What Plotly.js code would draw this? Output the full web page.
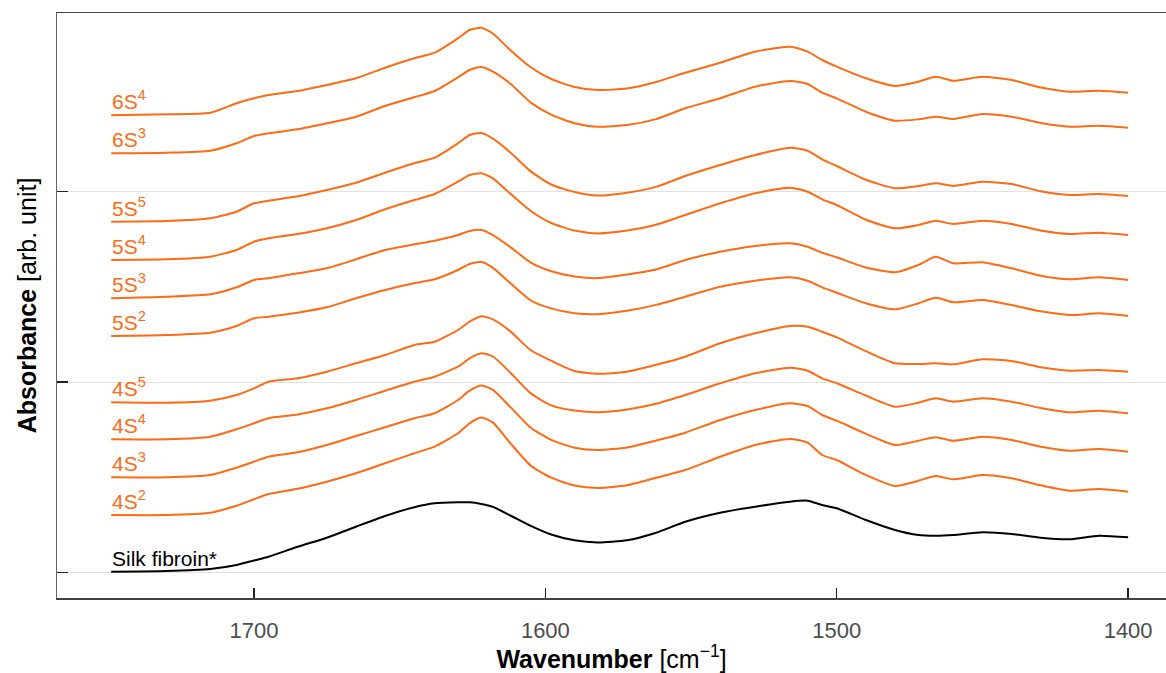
<!DOCTYPE html>
<html>
<head>
<meta charset="utf-8">
<script src="https://cdn.plot.ly/plotly-3.0.1.min.js"></script>
<style>html,body{margin:0;padding:0;background:#fff;}#chart{width:1166px;height:673px;}</style>
</head>
<body>
<div id="chart"></div>
<script>
// Wavenumber grid [cm^-1]
const wavenumber = [1749,1730,1715,1706,1700,1695,1685,1675,1665,1655,1645,1638,1630,1626,1622,1618,1612,1605,1598,1590,1582,1572,1562,1552,1540,1528,1516,1510,1505,1500,1490,1480,1472,1466,1460,1450,1440,1430,1420,1410,1400];

// Absorbance (arb. unit, stacked spectra)
const silkFibroin = [0.283,0.29,0.31,0.35,0.395,0.433,0.533,0.623,0.733,0.84,0.927,0.967,0.977,0.977,0.96,0.931,0.845,0.741,0.655,0.597,0.576,0.597,0.673,0.783,0.873,0.933,0.983,0.993,0.95,0.917,0.80,0.70,0.65,0.643,0.65,0.677,0.66,0.622,0.607,0.643,0.627];
const s4S2 = [0.85,0.85,0.873,0.943,1.007,1.06,1.112,1.183,1.267,1.367,1.467,1.533,1.667,1.767,1.824,1.774,1.567,1.344,1.223,1.144,1.12,1.148,1.223,1.30,1.433,1.55,1.61,1.573,1.45,1.40,1.25,1.14,1.193,1.24,1.207,1.25,1.217,1.147,1.093,1.11,1.083];
const s4S3 = [1.227,1.227,1.25,1.323,1.383,1.433,1.478,1.55,1.64,1.727,1.817,1.867,2.00,2.093,2.145,2.101,1.929,1.722,1.602,1.523,1.499,1.526,1.595,1.673,1.80,1.90,1.967,1.94,1.85,1.793,1.662,1.55,1.593,1.627,1.593,1.633,1.60,1.533,1.493,1.51,1.483];
const s4S4 = [1.607,1.607,1.633,1.707,1.767,1.817,1.855,1.917,2.00,2.093,2.183,2.233,2.333,2.417,2.468,2.435,2.273,2.066,1.946,1.894,1.877,1.905,1.963,2.05,2.167,2.267,2.323,2.293,2.217,2.167,2.045,1.933,1.973,2.017,1.983,2.017,1.983,1.92,1.877,1.893,1.867];
const s4S5 = [1.977,1.973,1.993,2.05,2.117,2.183,2.217,2.283,2.367,2.45,2.55,2.583,2.70,2.783,2.837,2.806,2.686,2.497,2.393,2.29,2.262,2.283,2.352,2.433,2.567,2.667,2.74,2.733,2.683,2.627,2.488,2.367,2.36,2.367,2.357,2.407,2.39,2.328,2.293,2.30,2.283];
const s5S2 = [2.64,2.65,2.673,2.74,2.817,2.833,2.873,2.927,3.017,3.10,3.167,3.207,3.30,3.36,3.379,3.322,3.168,2.995,2.916,2.868,2.858,2.892,2.951,3.033,3.133,3.193,3.227,3.193,3.127,3.073,2.967,2.907,2.967,3.023,2.977,3.00,2.95,2.887,2.85,2.867,2.84];
const s5S3 = [3.017,3.033,3.057,3.127,3.20,3.217,3.267,3.317,3.407,3.50,3.557,3.593,3.65,3.69,3.70,3.649,3.529,3.374,3.288,3.236,3.219,3.254,3.305,3.40,3.483,3.54,3.567,3.533,3.473,3.427,3.325,3.277,3.35,3.433,3.367,3.377,3.317,3.242,3.207,3.227,3.20];
const s5S4 = [3.40,3.407,3.433,3.50,3.583,3.617,3.66,3.717,3.80,3.907,4.00,4.06,4.183,4.25,4.267,4.217,4.062,3.89,3.77,3.694,3.666,3.694,3.753,3.85,3.967,4.067,4.123,4.083,4.007,3.95,3.803,3.717,3.75,3.793,3.76,3.793,3.76,3.695,3.66,3.673,3.65];
const s5S5 = [3.783,3.79,3.817,3.883,3.967,3.993,4.037,4.10,4.173,4.273,4.367,4.423,4.567,4.65,4.669,4.613,4.475,4.286,4.155,4.08,4.045,4.073,4.131,4.24,4.35,4.45,4.523,4.493,4.407,4.34,4.203,4.117,4.14,4.167,4.14,4.183,4.16,4.087,4.05,4.06,4.04];
const s6S3 = [4.467,4.473,4.493,4.567,4.64,4.667,4.707,4.767,4.833,4.94,5.027,5.09,5.227,5.30,5.331,5.284,5.163,4.974,4.854,4.768,4.733,4.75,4.809,4.917,5.017,5.133,5.19,5.16,5.073,5.017,4.883,4.793,4.807,4.833,4.81,4.86,4.833,4.77,4.733,4.743,4.723];
const s6S4 = [4.847,4.857,4.873,4.967,5.017,5.05,5.09,5.15,5.217,5.323,5.417,5.473,5.617,5.70,5.722,5.665,5.498,5.328,5.21,5.13,5.10,5.115,5.18,5.273,5.373,5.483,5.533,5.483,5.40,5.333,5.217,5.14,5.183,5.233,5.193,5.233,5.20,5.125,5.083,5.093,5.073];

const seriesNames = ['Silk fibroin*','4S<sup>2</sup>','4S<sup>3</sup>','4S<sup>4</sup>','4S<sup>5</sup>','5S<sup>2</sup>','5S<sup>3</sup>','5S<sup>4</sup>','5S<sup>5</sup>','6S<sup>3</sup>','6S<sup>4</sup>'];
const seriesData = [silkFibroin,s4S2,s4S3,s4S4,s4S5,s5S2,s5S3,s5S4,s5S5,s6S3,s6S4];
const xTicks = [1700,1600,1500,1400];
const yTicks = [0.275,2.18,4.085];

const ORANGE = '#ff6a13';
const FONT = 'Liberation Sans, Arial, Helvetica, sans-serif';

const traces = seriesData.map((y,i)=>({
  type:'scatter', mode:'lines', x:wavenumber, y:y,
  line:{color: i===0 ? '#000000' : ORANGE, width:2, shape:'spline', smoothing:0.6},
  hoverinfo:'skip', showlegend:false
}));

const annotations = seriesData.map((y,i)=>({
  x: wavenumber[0], y: y[0], xref:'x', yref:'y',
  text: seriesNames[i], showarrow:false,
  xanchor:'left', yanchor:'bottom', yshift:0, xshift:-1,
  font:{family:FONT, size:21, color: i===0 ? '#000000' : ORANGE}
}));

const layout = {
  width:1166, height:673,
  margin:{l:57, r:0, t:13, b:75},
  paper_bgcolor:'#ffffff', plot_bgcolor:'#ffffff',
  font:{family:FONT},
  showlegend:false,
  xaxis:{
    range:[1767.6,1387], tickvals:xTicks, ticktext:xTicks.map(String),
    ticks:'inside', ticklen:10, tickwidth:1.5, tickcolor:'#222',
    showline:true, linecolor:'#444', linewidth:1.5, mirror:true,
    showgrid:false, zeroline:false,
    tickfont:{family:FONT, size:22, color:'#4d4d4d'},
    ticklabelstandoff:12,
    title:{text:'<b>Wavenumber</b> [cm<sup>−1</sup>]', font:{family:FONT, size:25, color:'#000'}, standoff:9}
  },
  yaxis:{
    range:[0.02,5.87], tickvals:yTicks, showticklabels:false,
    ticks:'inside', ticklen:11, tickwidth:1.5, tickcolor:'#222',
    showline:true, linecolor:'#666', linewidth:1.5,
    showgrid:true, gridcolor:'#e2e2e2', gridwidth:1, zeroline:false,
    title:{text:'<b>Absorbance</b> [arb. unit]', font:{family:FONT, size:25, color:'#000'}, standoff:12}
  },
  annotations: annotations
};

Plotly.newPlot('chart', traces, layout, {displayModeBar:false, staticPlot:true});
</script>
</body>
</html>
